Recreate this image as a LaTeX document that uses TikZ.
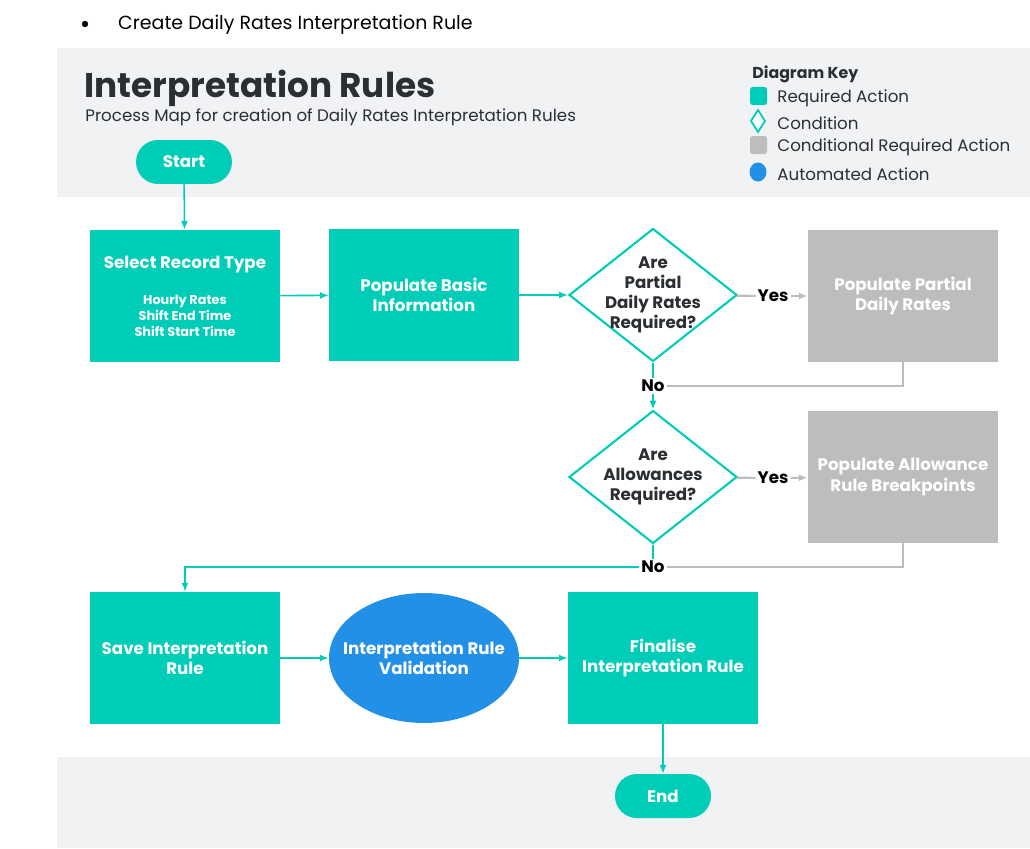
\documentclass[tikz,border=0pt]{standalone}
\usepackage{fontspec}
\setmainfont{Poppins}
\usetikzlibrary{shapes.geometric, positioning, arrows.meta}
\definecolor{teal1}{HTML}{00CDB8}
\definecolor{grey1}{HTML}{BDBDBF}
\definecolor{blue1}{HTML}{2390E8}
\definecolor{band}{HTML}{F1F2F4}
\definecolor{ink}{HTML}{2B2E33}
\newcommand{\smalltxt}{\fontsize{7.3}{8.6}\selectfont}
\tikzset{
  act/.style={draw=none, fill=teal1, text=white, font=\bfseries\fontsize{9.5}{11.5}\selectfont,
    minimum width=3.8cm, minimum height=2.64cm, align=center, inner sep=2pt},
  cond/.style={act, fill=grey1},
  auto/.style={ellipse, fill=blue1, minimum width=3.8cm, minimum height=2.6cm, inner sep=0pt,
    label={[text=white, font=\bfseries\fontsize{9.5}{11.5}\selectfont, align=center]center:#1}},
  pill/.style={fill=teal1, text=white, font=\bfseries\fontsize{9.5}{12}\selectfont,
    rounded corners=0.44cm, minimum width=1.92cm, minimum height=0.88cm},
  ask/.style={diamond, draw=teal1, line width=1.2pt, fill=white,
    minimum width=3.36cm, minimum height=2.66cm, inner sep=0pt,
    label={[text=ink, font=\bfseries\fontsize{9.5}{11.5}\selectfont, align=center]center:#1}},
  lab/.style={text=black, font=\bfseries\fontsize{9.5}{12}\selectfont, inner sep=1pt},
  flow/.style={teal1, line width=0.9pt, -{Latex[length=5pt,width=4pt]}},
  side/.style={grey1, line width=1.2pt},
  sidea/.style={side, -{Latex[length=5pt,width=4pt]}},
}
\begin{document}
\begin{tikzpicture}[x=0.02cm, y=-0.02cm]
\useasboundingbox (0,0) rectangle (1030,848);
% bands
\fill [band] (57,48) rectangle (1030,197);
\fill [band] (57,757) rectangle (1030,848);
\fill (85,24) circle (3.2);
\node [anchor=west, text=black, font=\fontsize{10.8}{12}\selectfont] (head) at (112,25) {Create Daily Rates Interpretation Rule};
\node [anchor=west, text=ink, font=\bfseries\fontsize{19.5}{22}\selectfont, inner sep=0pt] (title) at (84,88) {Interpretation Rules};
\node [anchor=west, text=ink, font=\fontsize{9.5}{12}\selectfont, inner sep=0pt] (sub) at (85,117) {Process Map for creation of Daily Rates Interpretation Rules};
% key
\node [anchor=west, text=ink, font=\bfseries\fontsize{9}{11}\selectfont, inner sep=0pt] (key) at (752,74) {Diagram Key};
\fill [teal1, rounded corners=1.5pt] (750,87) rectangle (767,105);
\draw [teal1, line width=1pt, fill=white] (758,110) -- (765,121) -- (758,132) -- (751,121) -- cycle;
\fill [grey1, rounded corners=1.5pt] (750,136) rectangle (767,154);
\fill [blue1] (758,172) ellipse (8.5 and 9.5);
\foreach \y/\t in {98/Required Action, 123/Condition, 147/Conditional Required Action, 174/Automated Action}
  \node [anchor=west, text=ink, font=\fontsize{9.5}{12}\selectfont, inner sep=0pt] at (777,\y) {\t};
% nodes
\node [pill] (start) at (184,162) {Start};
\node [act] (rtype) at (185,296) {Select Record Type\\[1.0em]
  \smalltxt Hourly Rates\\[-2.6pt]\smalltxt Shift End Time\\[-2.6pt]\smalltxt Shift Start Time};
\node [act] (basic) at (424,295) {Populate Basic\\Information};
\node [ask={Are\\Partial\\Daily Rates\\Required?}] (qpart) at (653,295) {};
\node [cond] (ppart) at (903,296) {Populate Partial\\Daily Rates};
\node [lab] (yes1) at (773,296) {Yes};
\node [lab] (no1) at (653,386) {No};
\node [ask={Are\\Allowances\\Required?}] (qallow) at (653,477) {};
\node [cond] (pallow) at (903,477) {Populate Allowance\\Rule Breakpoints};
\node [lab] (yes2) at (773,478) {Yes};
\node [lab] (no2) at (653,567) {No};
\node [act] (save) at (185,658) {Save Interpretation\\Rule};
\node [auto={Interpretation Rule\\Validation}] (valid) at (424,658) {};
\node [act] (final) at (663,658) {Finalise\\Interpretation Rule};
\node [pill] (stop) at (663,796) {End};
% connectors
\draw [flow] (start) -- (rtype);
\draw [flow] (rtype) -- (basic);
\draw [flow] (basic) -- (qpart);
\draw [side] (qpart) -- (yes1);
\draw [sidea] (yes1) -- (ppart);
\draw [teal1, line width=0.9pt] (qpart) -- (no1);
\draw [side] (ppart.south) |- (no1.east);
\draw [flow] (no1) -- (qallow);
\draw [side] (qallow) -- (yes2);
\draw [sidea] (yes2) -- (pallow);
\draw [teal1, line width=0.9pt] (qallow) -- (no2);
\draw [side] (pallow.south) |- (no2.east);
\draw [flow] (no2.west) -| (save.north);
\draw [flow] (save) -- (valid);
\draw [flow] (valid) -- (final);
\draw [flow] (final) -- (stop);
\end{tikzpicture}
\end{document}
